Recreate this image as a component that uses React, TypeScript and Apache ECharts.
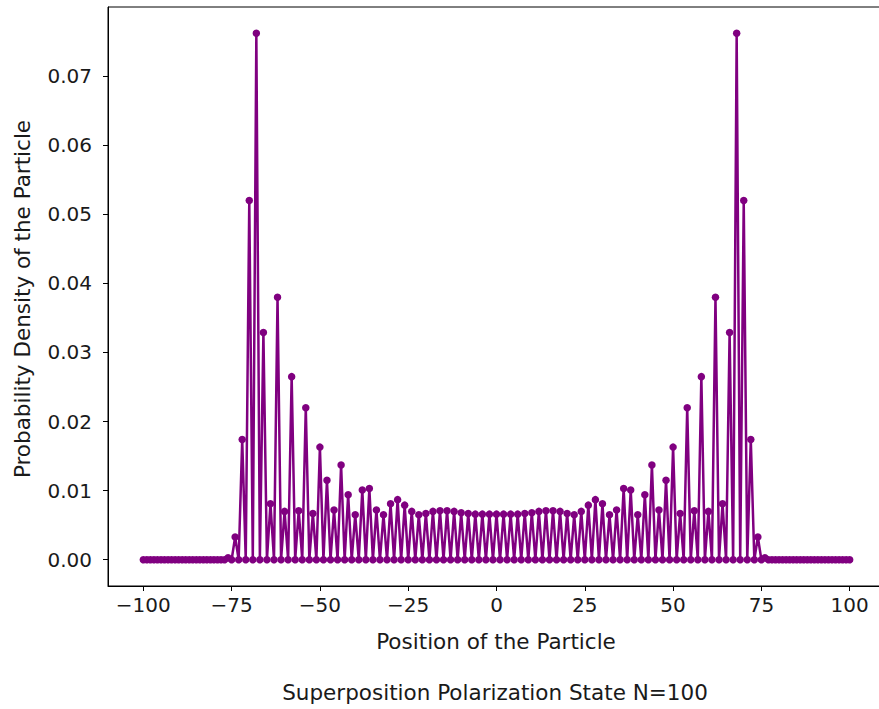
import React, { useEffect, useRef } from "react";
import * as echarts from "echarts";

// Positions of the particle, -100 .. 100
const positions: number[] = [];
for (let p = -100; p <= 100; p++) positions.push(p);

// Probability density at each position
const density: number[] = [
  0, 0, 0, 0, 0, 0, 0, 0, 0, 0, 0, 0, // -100..-89
  0, 0, 0, 0, 0, 0, 0, 0, 0, 0, 0, 0, // -88..-77
  0.0003, 0, 0.0033, 0, 0.0174, 0, 0.052, 0, 0.0762, 0, 0.0329, 0, // -76..-65
  0.0081, 0, 0.038, 0, 0.007, 0, 0.0265, 0, 0.0071, 0, 0.022, 0, // -64..-53
  0.0067, 0, 0.0163, 0, 0.0115, 0, 0.0072, 0, 0.0137, 0, 0.0094, 0, // -52..-41
  0.0065, 0, 0.0101, 0, 0.0103, 0, 0.0072, 0, 0.0065, 0, 0.0081, 0, // -40..-29
  0.0087, 0, 0.0079, 0, 0.007, 0, 0.0065, 0, 0.0067, 0, 0.007, 0, // -28..-17
  0.0071, 0, 0.0071, 0, 0.007, 0, 0.0068, 0, 0.0067, 0, 0.0066, 0, // -16..-5
  0.0066, 0, 0.0066, 0, // -4..-1
  0.0066, // 0
  0, 0.0066, 0, 0.0066, // 1..4
  0, 0.0066, 0, 0.0067, 0, 0.0068, 0, 0.007, 0, 0.0071, 0, 0.0071, // 5..16
  0, 0.007, 0, 0.0067, 0, 0.0065, 0, 0.007, 0, 0.0079, 0, 0.0087, // 17..28
  0, 0.0081, 0, 0.0065, 0, 0.0072, 0, 0.0103, 0, 0.0101, 0, 0.0065, // 29..40
  0, 0.0094, 0, 0.0137, 0, 0.0072, 0, 0.0115, 0, 0.0163, 0, 0.0067, // 41..52
  0, 0.022, 0, 0.0071, 0, 0.0265, 0, 0.007, 0, 0.038, 0, 0.0081, // 53..64
  0, 0.0329, 0, 0.0762, 0, 0.052, 0, 0.0174, 0, 0.0033, 0, 0.0003, // 65..76
  0, 0, 0, 0, 0, 0, 0, 0, 0, 0, 0, 0, // 77..88
  0, 0, 0, 0, 0, 0, 0, 0, 0, 0, 0, 0, // 89..100
];

const xTicks = [-100, -75, -50, -25, 0, 25, 50, 75, 100];
const yTicks = [0, 0.01, 0.02, 0.03, 0.04, 0.05, 0.06, 0.07];

const xLabel = "Position of the Particle";
const yLabel = "Probability Density of the Particle";
const title = "Superposition Polarization State N=100";

const FONT = "DejaVu Sans";
const TICK_FS = 20;
const LABEL_FS = 21.5;

export default function App() {
  const ref = useRef<HTMLDivElement>(null);
  useEffect(() => {
    if (!ref.current) return;
    const chart = echarts.init(ref.current, undefined, { renderer: "svg" });
    const seriesData = positions.map((p, i) => [p, density[i]]);
    chart.setOption({
      animation: false,
      backgroundColor: "#ffffff",
      textStyle: { fontFamily: FONT },
      grid: {
        left: 108,
        right: 5,
        top: 7,
        bottom: 709 - 586,
        show: true,
        borderColor: "#000000",
        borderWidth: 1,
        backgroundColor: "transparent",
      },
      xAxis: {
        type: "value",
        min: -110,
        max: 110,
        splitLine: { show: false },
        axisLine: { show: true, onZero: false, lineStyle: { color: "#000", width: 1 } },
        axisTick: { show: true, length: 5, customValues: xTicks, lineStyle: { color: "#000" } },
        axisLabel: {
          customValues: xTicks,
          margin: 9,
          color: "#1a1a1a",
          fontSize: TICK_FS,
          fontFamily: FONT,
          formatter: (v: number) => (v < 0 ? "\u2212" + Math.abs(v) : String(v)),
        },
      },
      yAxis: {
        type: "value",
        min: -0.0038,
        max: 0.08,
        splitLine: { show: false },
        axisLine: { show: true, onZero: false, lineStyle: { color: "#000", width: 1 } },
        axisTick: { show: true, length: 5, customValues: yTicks, lineStyle: { color: "#000" } },
        axisLabel: {
          customValues: yTicks,
          margin: 16,
          color: "#1a1a1a",
          fontSize: TICK_FS,
          fontFamily: FONT,
          formatter: (v: number) => v.toFixed(2),
        },
      },
      graphic: [
        {
          type: "text",
          x: 496,
          y: 641,
          style: {
            text: xLabel,
            fontSize: LABEL_FS,
            fontFamily: FONT,
            fill: "#1a1a1a",
            align: "center",
            verticalAlign: "middle",
          },
        },
        {
          type: "text",
          x: 22,
          y: 299,
          rotation: Math.PI / 2,
          style: {
            text: yLabel,
            fontSize: LABEL_FS,
            fontFamily: FONT,
            fill: "#1a1a1a",
            align: "center",
            verticalAlign: "middle",
          },
        },
        {
          type: "text",
          x: 495,
          y: 692,
          style: {
            text: title,
            fontSize: LABEL_FS,
            fontFamily: FONT,
            fill: "#1a1a1a",
            align: "center",
            verticalAlign: "middle",
          },
        },
      ],
      series: [
        {
          type: "line",
          data: seriesData,
          showAllSymbol: true,
          symbol: "circle",
          symbolSize: 7.5,
          color: "#800080",
          itemStyle: { color: "#800080" },
          lineStyle: { color: "#800080", width: 2.5 },
          z: 3,
        },
      ],
    });
    return () => chart.dispose();
  }, []);
  return (
    <div
      style={{
        position: "fixed",
        left: 0,
        top: 0,
        width: 879,
        height: 709,
        overflow: "hidden",
        background: "#fff",
      }}
    >
      <div ref={ref} style={{ width: 890, height: 709 }} />
    </div>
  );
}
